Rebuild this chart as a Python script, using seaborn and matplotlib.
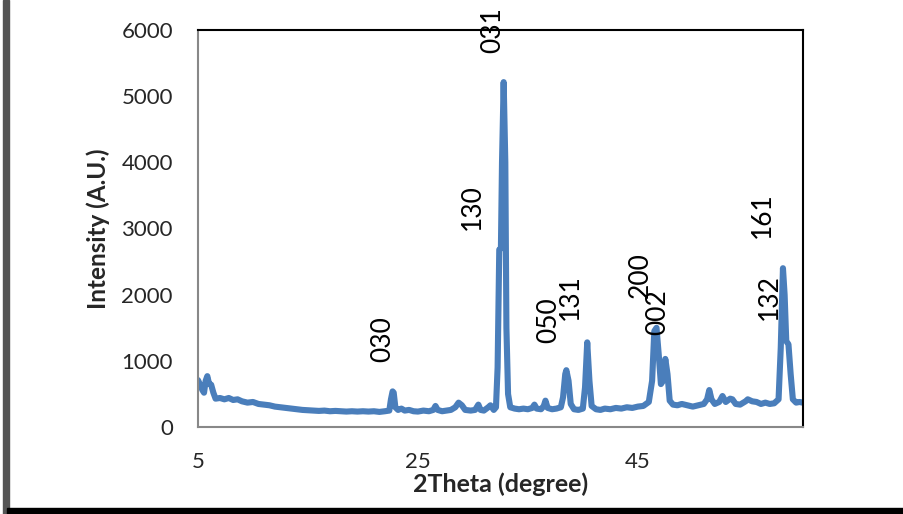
import matplotlib
matplotlib.use("Agg")
import matplotlib.pyplot as plt
import matplotlib.patches as mpatches
import numpy as np
import pandas as pd
import seaborn as sns

# XRD pattern
TWO_THETA = [
    5.0, 5.2, 5.4, 5.55, 5.7, 5.85, 6.0, 6.2, 6.4, 6.6, 7.0, 7.4, 7.8, 8.2, 8.6,
    9.0, 9.5, 10.0, 10.5, 11.0, 11.5, 12.0, 12.5, 13.0, 13.5, 14.0, 14.5, 15.0,
    15.5, 16.0, 16.5, 17.0, 17.5, 18.0, 18.5, 19.0, 19.5, 20.0, 20.5, 21.0, 21.5,
    22.0, 22.4, 22.55, 22.7, 22.8, 22.95, 23.2, 23.5, 23.8, 24.2, 24.6, 25.0,
    25.5, 26.0, 26.4, 26.6, 26.8, 27.2, 27.6, 28.0, 28.4, 28.7, 29.0, 29.3, 29.8,
    30.2, 30.5, 30.7, 31.0, 31.4, 31.6, 31.9, 32.1, 32.25, 32.4, 32.55, 32.65,
    32.8, 32.95, 33.05, 33.2, 33.4, 33.8, 34.2, 34.6, 35.0, 35.4, 35.6, 35.8,
    36.2, 36.45, 36.6, 36.8, 37.2, 37.6, 38.0, 38.2, 38.4, 38.5, 38.7, 38.9, 39.2,
    39.6, 40.0, 40.2, 40.4, 40.6, 40.8, 41.2, 41.6, 42.0, 42.5, 43.0, 43.5, 44.0,
    44.5, 45.0, 45.5, 46.0, 46.3, 46.5, 46.7, 46.9, 47.1, 47.3, 47.5, 47.7, 47.9,
    48.2, 48.6, 49.0, 49.5, 50.0, 50.5, 51.0, 51.3, 51.5, 51.7, 52.0, 52.4, 52.7,
    53.0, 53.4, 53.6, 53.9, 54.3, 54.8, 55.0, 55.4, 55.8, 56.2, 56.6, 57.0, 57.4,
    57.8, 58.0, 58.2, 58.35, 58.5, 58.7, 58.9, 59.1, 59.4, 59.7, 60.0,
]
INTENSITY = [
    710, 640, 560, 520, 700, 770, 660, 640, 520, 430, 440, 420, 440, 410, 420,
    390, 370, 380, 350, 340, 330, 310, 300, 290, 280, 270, 260, 255,
    250, 245, 250, 240, 245, 240, 235, 240, 235, 240, 235, 240, 230,
    240, 250, 420, 540, 520, 300, 260, 280, 250, 260, 240, 235,
    250, 240, 260, 320, 260, 240, 250, 260, 300, 370, 330, 260, 250,
    260, 340, 260, 250, 300, 330, 260, 300, 900, 2680, 2700, 4000,
    5210, 4000, 1500, 500, 300, 280, 270, 280, 270, 290, 340, 280,
    270, 320, 400, 290, 270, 280, 300, 450, 800, 860, 700, 350, 270,
    260, 280, 600, 1280, 700, 320, 270, 260, 280, 270, 290, 280, 300,
    290, 310, 320, 380, 700, 1450, 1500, 1100, 650, 700, 1030, 800, 400,
    340, 330, 350, 330, 310, 330, 350, 420, 560, 420, 350, 380, 470,
    380, 430, 420, 350, 340, 390, 420, 390, 380, 350, 370, 350, 360,
    420, 1200, 2400, 2000, 1300, 1250, 800, 420, 370, 380, 370,
]

PEAK_LABELS = ["030", "130", "031", "050", "131", "200", "002", "161", "132"]
LABEL_X = [21.8, 30.0, 31.8, 36.9, 38.9, 45.2, 46.8, 56.3, 57.0]
LABEL_Y = [1330, 3320, 6000, 1620, 1960, 2300, 1740, 3200, 1960]

LINE_COLOR = "#4a7ebb"


def main() -> None:
    sns.set_style("white")
    plt.rcParams["font.family"] = ["Lato", "DejaVu Sans"]

    df = pd.DataFrame({"two_theta": TWO_THETA, "intensity": INTENSITY})

    fig = plt.figure(figsize=(9.04, 5.14), dpi=100)
    ax = fig.add_axes([0.219, 0.169, 0.669, 0.773])

    sns.lineplot(data=df, x="two_theta", y="intensity", ax=ax,
                 color=LINE_COLOR, linewidth=4.4, solid_joinstyle="round",
                 solid_capstyle="round")

    for label, lx, ly in zip(PEAK_LABELS, LABEL_X, LABEL_Y):
        ax.text(lx, ly, label, rotation=90, ha="center", va="center",
                fontsize=19, color="black", clip_on=False)

    ax.set_xlim(5, 60)
    ax.set_ylim(0, 6000)
    ax.set_xticks([5, 25, 45])
    ax.set_yticks(np.arange(0, 6001, 1000))
    ax.tick_params(direction="in", length=7, width=1, color="#888888",
                   labelsize=16, pad=18)

    for side in ["left", "bottom"]:
        ax.spines[side].set_color("#888888")
        ax.spines[side].set_linewidth(1.5)
    for side in ["top", "right"]:
        ax.spines[side].set_color("black")
        ax.spines[side].set_linewidth(1.5)

    ax.set_xlabel("2Theta (degree)", fontsize=18, fontweight="bold", labelpad=0)
    ax.set_ylabel("Intensity (A.U.)", fontsize=17.5, fontweight="bold", labelpad=8)

    # frame lines from the original cropped picture
    fig.add_artist(mpatches.Rectangle((0.003, 0.0), 0.007, 1.0,
                                      transform=fig.transFigure, color="#555555"))
    fig.add_artist(mpatches.Rectangle((0.008, 0.0), 0.992, 0.012,
                                      transform=fig.transFigure, color="black"))

    fig.savefig("out.png", dpi=100)
    plt.close(fig)


if __name__ == "__main__":
    main()
